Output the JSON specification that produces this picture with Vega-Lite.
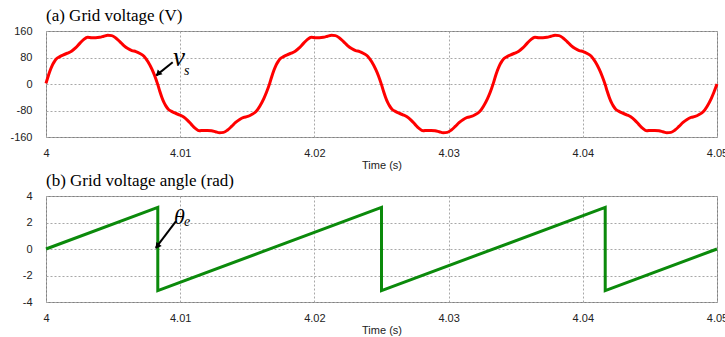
{
  "$schema": "https://vega.github.io/schema/vega-lite/v6.json",
  "autosize": {"type": "pad"},
  "padding": {"left": 9, "top": 6, "right": 0, "bottom": 0},
  "background": "white",
  "spacing": 59,
  "bounds": "flush",
  "datasets": {
    "va": [
      {"t":4.00000,"v":2},{"t":4.00015,"v":22},{"t":4.00030,"v":40},{"t":4.00045,"v":55},{"t":4.00060,"v":66},{"t":4.00080,"v":77},{"t":4.00100,"v":82},{"t":4.00130,"v":88},{"t":4.00160,"v":93},{"t":4.00190,"v":99},{"t":4.00220,"v":109},{"t":4.00250,"v":122},{"t":4.00280,"v":134},{"t":4.00310,"v":141},{"t":4.00340,"v":140},{"t":4.00370,"v":140},{"t":4.00400,"v":141},{"t":4.00430,"v":144},{"t":4.00460,"v":147},{"t":4.00490,"v":146},{"t":4.00520,"v":139},{"t":4.00550,"v":128},{"t":4.00580,"v":116},{"t":4.00610,"v":107},{"t":4.00640,"v":101},{"t":4.00670,"v":98},{"t":4.00700,"v":92},{"t":4.00730,"v":84},{"t":4.00760,"v":67},{"t":4.00790,"v":44},{"t":4.00810,"v":25},
      {"t":4.00833,"v":-2},{"t":4.00848,"v":-22},{"t":4.00863,"v":-40},{"t":4.00878,"v":-55},{"t":4.00893,"v":-66},{"t":4.00913,"v":-77},{"t":4.00933,"v":-82},{"t":4.00963,"v":-88},{"t":4.00993,"v":-93},{"t":4.01023,"v":-99},{"t":4.01053,"v":-109},{"t":4.01083,"v":-122},{"t":4.01113,"v":-134},{"t":4.01143,"v":-141},{"t":4.01173,"v":-140},{"t":4.01203,"v":-140},{"t":4.01233,"v":-141},{"t":4.01263,"v":-144},{"t":4.01293,"v":-147},{"t":4.01323,"v":-146},{"t":4.01353,"v":-139},{"t":4.01383,"v":-128},{"t":4.01413,"v":-116},{"t":4.01443,"v":-107},{"t":4.01473,"v":-101},{"t":4.01503,"v":-98},{"t":4.01533,"v":-92},{"t":4.01563,"v":-84},{"t":4.01593,"v":-67},{"t":4.01623,"v":-44},{"t":4.01643,"v":-25},
      {"t":4.01667,"v":2},{"t":4.01682,"v":22},{"t":4.01697,"v":40},{"t":4.01712,"v":55},{"t":4.01727,"v":66},{"t":4.01747,"v":77},{"t":4.01767,"v":82},{"t":4.01797,"v":88},{"t":4.01827,"v":93},{"t":4.01857,"v":99},{"t":4.01887,"v":109},{"t":4.01917,"v":122},{"t":4.01947,"v":134},{"t":4.01977,"v":141},{"t":4.02007,"v":140},{"t":4.02037,"v":140},{"t":4.02067,"v":141},{"t":4.02097,"v":144},{"t":4.02127,"v":147},{"t":4.02157,"v":146},{"t":4.02187,"v":139},{"t":4.02217,"v":128},{"t":4.02247,"v":116},{"t":4.02277,"v":107},{"t":4.02307,"v":101},{"t":4.02337,"v":98},{"t":4.02367,"v":92},{"t":4.02397,"v":84},{"t":4.02427,"v":67},{"t":4.02457,"v":44},{"t":4.02477,"v":25},
      {"t":4.02500,"v":-2},{"t":4.02515,"v":-22},{"t":4.02530,"v":-40},{"t":4.02545,"v":-55},{"t":4.02560,"v":-66},{"t":4.02580,"v":-77},{"t":4.02600,"v":-82},{"t":4.02630,"v":-88},{"t":4.02660,"v":-93},{"t":4.02690,"v":-99},{"t":4.02720,"v":-109},{"t":4.02750,"v":-122},{"t":4.02780,"v":-134},{"t":4.02810,"v":-141},{"t":4.02840,"v":-140},{"t":4.02870,"v":-140},{"t":4.02900,"v":-141},{"t":4.02930,"v":-144},{"t":4.02960,"v":-147},{"t":4.02990,"v":-146},{"t":4.03020,"v":-139},{"t":4.03050,"v":-128},{"t":4.03080,"v":-116},{"t":4.03110,"v":-107},{"t":4.03140,"v":-101},{"t":4.03170,"v":-98},{"t":4.03200,"v":-92},{"t":4.03230,"v":-84},{"t":4.03260,"v":-67},{"t":4.03290,"v":-44},{"t":4.03310,"v":-25},
      {"t":4.03333,"v":2},{"t":4.03348,"v":22},{"t":4.03363,"v":40},{"t":4.03378,"v":55},{"t":4.03393,"v":66},{"t":4.03413,"v":77},{"t":4.03433,"v":82},{"t":4.03463,"v":88},{"t":4.03493,"v":93},{"t":4.03523,"v":99},{"t":4.03553,"v":109},{"t":4.03583,"v":122},{"t":4.03613,"v":134},{"t":4.03643,"v":141},{"t":4.03673,"v":140},{"t":4.03703,"v":140},{"t":4.03733,"v":141},{"t":4.03763,"v":144},{"t":4.03793,"v":147},{"t":4.03823,"v":146},{"t":4.03853,"v":139},{"t":4.03883,"v":128},{"t":4.03913,"v":116},{"t":4.03943,"v":107},{"t":4.03973,"v":101},{"t":4.04003,"v":98},{"t":4.04033,"v":92},{"t":4.04063,"v":84},{"t":4.04093,"v":67},{"t":4.04123,"v":44},{"t":4.04143,"v":25},
      {"t":4.04167,"v":-2},{"t":4.04182,"v":-22},{"t":4.04197,"v":-40},{"t":4.04212,"v":-55},{"t":4.04227,"v":-66},{"t":4.04247,"v":-77},{"t":4.04267,"v":-82},{"t":4.04297,"v":-88},{"t":4.04327,"v":-93},{"t":4.04357,"v":-99},{"t":4.04387,"v":-109},{"t":4.04417,"v":-122},{"t":4.04447,"v":-134},{"t":4.04477,"v":-141},{"t":4.04507,"v":-140},{"t":4.04537,"v":-140},{"t":4.04567,"v":-141},{"t":4.04597,"v":-144},{"t":4.04627,"v":-147},{"t":4.04657,"v":-146},{"t":4.04687,"v":-139},{"t":4.04717,"v":-128},{"t":4.04747,"v":-116},{"t":4.04777,"v":-107},{"t":4.04807,"v":-101},{"t":4.04837,"v":-98},{"t":4.04867,"v":-92},{"t":4.04897,"v":-84},{"t":4.04927,"v":-67},{"t":4.04957,"v":-44},{"t":4.04977,"v":-25},{"t":4.05000,"v":0}
    ],
    "th": [
      {"i":0,"t":4.0,"th":0},{"i":1,"t":4.00833,"th":3.14},{"i":2,"t":4.00833,"th":-3.14},{"i":3,"t":4.025,"th":3.14},{"i":4,"t":4.025,"th":-3.14},{"i":5,"t":4.04167,"th":3.14},{"i":6,"t":4.04167,"th":-3.14},{"i":7,"t":4.05,"th":0}
    ]
  },
  "config": {
    "view": {"stroke": "#808080", "strokeWidth": 1},
    "axis": {"grid": true, "gridColor": "#a8a8a8", "gridDash": [2, 2], "gridWidth": 1, "ticks": false, "domain": false,
      "labelFont": "Liberation Sans", "labelFontSize": 11, "labelColor": "#222", "labelOverlap": false,
      "titleFont": "Liberation Sans", "titleFontSize": 11, "titleFontWeight": "normal", "titleColor": "#222"},
    "title": {"font": "Liberation Serif", "fontSize": 17, "fontWeight": "normal", "anchor": "start", "color": "#000", "frame": "group"}
  },
  "vconcat": [
    {
      "width": 671, "height": 106,
      "title": {"text": "(a) Grid voltage (V)", "offset": 0},
      "encoding": {
        "x": {"field": "t", "type": "quantitative", "scale": {"domain": [4, 4.05], "nice": false, "zero": false},
          "axis": {"title": "Time (s)", "values": [4, 4.01, 4.02, 4.03, 4.04, 4.05], "labelExpr": "'' + datum.value", "labelPadding": 10, "titlePadding": 1, "labelFlush": false}},
        "y": {"field": "v", "type": "quantitative", "scale": {"domain": [-160, 160], "nice": false},
          "axis": {"title": null, "values": [-160, -80, 0, 80, 160], "labelExpr": "'' + datum.value", "labelPadding": 14, "labelOverlap": false, "labelSeparation": 0, "labelFlush": false}}
      },
      "layer": [
        {
          "data": {"name": "va"},
          "mark": {"type": "line", "color": "#ff0000", "strokeWidth": 3, "interpolate": "monotone"}
        },
        {
          "data": {"values": [{"t": 4.00944, "v": 65.5, "t2": 4.00822, "v2": 26}]},
          "mark": {"type": "rule", "color": "#000", "strokeWidth": 2},
          "encoding": {"x2": {"field": "t2"}, "y2": {"field": "v2"}}
        },
        {
          "data": {"values": [{"t": 4.00835, "v": 30.5}]},
          "mark": {"type": "point", "shape": "triangle-up", "filled": true, "color": "#000", "opacity": 1, "size": 45, "angle": 225}
        },
        {
          "data": {"values": [{"t": 4.00946, "v": 54, "s": "v"}]},
          "mark": {"type": "text", "font": "Liberation Serif", "fontStyle": "italic", "fontSize": 27, "align": "left", "baseline": "alphabetic", "color": "#000"},
          "encoding": {"text": {"field": "s"}}
        },
        {
          "data": {"values": [{"t": 4.01028, "v": 28, "s": "s"}]},
          "mark": {"type": "text", "font": "Liberation Serif", "fontStyle": "italic", "fontSize": 14, "align": "left", "baseline": "alphabetic", "color": "#000"},
          "encoding": {"text": {"field": "s"}}
        }
      ]
    },
    {
      "width": 671, "height": 106,
      "title": {"text": "(b) Grid voltage angle (rad)", "offset": 0},
      "encoding": {
        "x": {"field": "t", "type": "quantitative", "scale": {"domain": [4, 4.05], "nice": false, "zero": false},
          "axis": {"title": "Time (s)", "values": [4, 4.01, 4.02, 4.03, 4.04, 4.05], "labelExpr": "'' + datum.value", "labelPadding": 10, "titlePadding": 1, "labelFlush": false}},
        "y": {"field": "th", "type": "quantitative", "scale": {"domain": [-4, 4], "nice": false},
          "axis": {"title": null, "values": [-4, -2, 0, 2, 4], "labelExpr": "'' + datum.value", "labelPadding": 14, "labelOverlap": false, "labelSeparation": 0, "labelFlush": false}}
      },
      "layer": [
        {
          "data": {"name": "th"},
          "mark": {"type": "line", "color": "#0b8a0b", "strokeWidth": 3},
          "encoding": {"order": {"field": "i", "type": "quantitative"}}
        },
        {
          "data": {"values": [{"t": 4.00969, "th": 2.11, "t2": 4.00818, "th2": 0.08}]},
          "mark": {"type": "rule", "color": "#000", "strokeWidth": 2},
          "encoding": {"x2": {"field": "t2"}, "y2": {"field": "th2"}}
        },
        {
          "data": {"values": [{"t": 4.00829, "th": 0.2}]},
          "mark": {"type": "point", "shape": "triangle-up", "filled": true, "color": "#000", "opacity": 1, "size": 45, "angle": 217}
        },
        {
          "data": {"values": [{"t": 4.00954, "th": 1.9, "s": "θ"}]},
          "mark": {"type": "text", "font": "Liberation Serif", "fontStyle": "italic", "fontSize": 22, "align": "left", "baseline": "alphabetic", "color": "#000"},
          "encoding": {"text": {"field": "s"}}
        },
        {
          "data": {"values": [{"t": 4.01028, "th": 1.74, "s": "e"}]},
          "mark": {"type": "text", "font": "Liberation Serif", "fontStyle": "italic", "fontSize": 14, "align": "left", "baseline": "alphabetic", "color": "#000"},
          "encoding": {"text": {"field": "s"}}
        }
      ]
    }
  ]
}
